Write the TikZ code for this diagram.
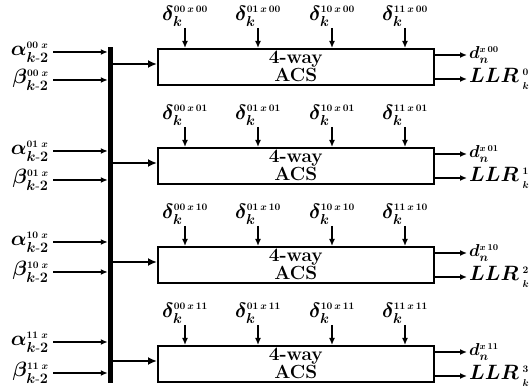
\documentclass[tikz,border=0pt]{standalone}
\usepackage{amsmath}
\usetikzlibrary{arrows.meta}
\begin{document}
\begin{tikzpicture}[x=1pt,y=-1pt,
  acs/.style={draw, line width=1.6pt, minimum width=276pt, minimum height=36pt,
    anchor=north west, align=center, inner sep=0pt,
    font=\fontsize{19}{17}\selectfont\bfseries},
  inlab/.style={anchor=east, inner sep=0pt, font=\fontsize{20}{22}\selectfont\boldmath},
  dlab/.style={anchor=south, inner sep=0pt, font=\fontsize{20}{20}\selectfont\boldmath},
  outlab/.style={anchor=west, inner sep=0pt, font=\fontsize{18}{18}\selectfont\boldmath},
  llrlab/.style={anchor=west, inner sep=0pt, font=\fontsize{20}{20}\selectfont\boldmath},
  arr/.style={line width=1.6pt, -{Latex[length=7pt,width=6pt]}},
  bigarr/.style={line width=2pt, -{Latex[length=9pt,width=8pt]}},
  busbar/.style={fill=black, draw=none, minimum width=5pt, minimum height=336pt, inner sep=0pt}]
\useasboundingbox (0,0) rectangle (531,390);
\node[busbar] (bus) at (110.5,215) {};
\foreach \i/\top/\ay/\by/\c/\n in {1/48/52/80/00/0, 2/147/151/180/01/1, 3/246/242/272/10/2, 4/345/342/373/11/3}{
  \node[acs] (box\i) at (157,\top) {4-way\\ACS};
  \node[inlab] (al\i) at (49,\ay) {$\alpha_{k\text{-}2}^{\scriptscriptstyle \c\;x}$};
  \node[inlab] (be\i) at (49,\by) {$\beta_{k\text{-}2}^{\scriptscriptstyle \c\;x}$};
  \draw[arr] ([xshift=4pt]al\i.east) -- (al\i.east -| bus.west);
  \draw[arr] ([xshift=4pt]be\i.east) -- (be\i.east -| bus.west);
  \coordinate (bb\i) at (bus.east |- {0,\top+16});
  \draw[bigarr] (bb\i) -- (bb\i -| box\i.west);
  \foreach \j/\x/\cc in {1/185/00, 2/258/01, 3/332/10, 4/405/11}{
    \node[dlab] (dl\i\j) at (\x,\top-21) {$\delta_k^{\scriptscriptstyle \cc\,x\,\c}$};
    \draw[arr] ([yshift=-1pt]dl\i\j.south) -- (dl\i\j.south |- box\i.north);
  }
  \node[outlab] (dn\i) at (469,\top+7) {$d_n^{\scriptscriptstyle x\,\c}$};
  \node[llrlab] (ll\i) at (469,\top+31) {$LLR\,{}^{\scriptscriptstyle \n}_{\scriptscriptstyle k}$};
  \draw[arr] (box\i.east |- dn\i.west) -- ([xshift=-2pt]dn\i.west);
  \draw[arr] (box\i.east |- ll\i.west) -- ([xshift=-2pt]ll\i.west);
}
\end{tikzpicture}
\end{document}
